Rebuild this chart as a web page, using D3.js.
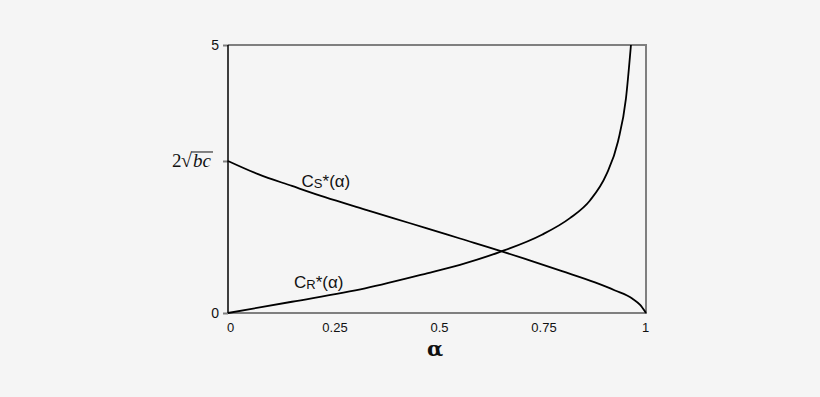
<!DOCTYPE html>
<html>
<head>
<meta charset="utf-8">
<script src="https://cdn.jsdelivr.net/npm/d3@7"></script>
<style>
  body { margin: 0; background: #f5f5f5; }
  svg { display: block; }
</style>
</head>
<body>
<div id="graf"></div>
<script>
// Curvas C_S*(alpha) y C_R*(alpha)

alphaTicks = [0, 0.25, 0.5, 0.75, 1]
xTickLabels = ['0', '0.25', '0.5', '0.75', '1']
yTicks = [0, 2.836, 5]

csAlpha = [0, 0.072, 0.153, 0.232, 0.328, 0.395, 0.476, 0.555, 0.651, 0.718, 0.799, 0.878, 0.926, 0.967, 0.986, 1.0]
csValue = [2.836, 2.59, 2.37, 2.16, 1.93, 1.77, 1.58, 1.39, 1.16, 0.99, 0.78, 0.57, 0.42, 0.27, 0.15, 0]

crAlpha = [0, 0.153, 0.328, 0.476, 0.555, 0.651, 0.751, 0.818, 0.866, 0.905, 0.933, 0.952, 0.964]
crValue = [0, 0.21, 0.46, 0.74, 0.90, 1.14, 1.46, 1.77, 2.10, 2.58, 3.20, 4.00, 5.0]

ancho_total = 820
alto_total  = 397
margins = { top: 45, left: 228, right: 174, bottom: 84 }
ancho = ancho_total - margins.left - margins.right
alto  = alto_total - margins.top - margins.bottom

svg = d3.select('#graf').append('svg')
        .attr('width', ancho_total)
        .attr('height', alto_total)

svg.append('rect')
  .attr('width', ancho_total)
  .attr('height', alto_total)
  .attr('fill', '#f5f5f5')

g = svg.append('g')
       .attr('transform', `translate(${ margins.left }, ${ margins.top })`)

// Escaladores
x = d3.scaleLinear().domain([0, 1]).range([0, ancho])
y = d3.scaleLinear().domain([0, 5]).range([alto, 0])

// marco gris (arriba, derecha, abajo)
g.append('path')
  .attr('d', `M0,0H${ ancho }V${ alto }H0`)
  .attr('fill', 'none')
  .attr('stroke', '#7f7f7f')
  .attr('stroke-width', 2)

// eje x
xAxis = g.append('g')
  .attr('transform', `translate(0, ${ alto })`)
  .call(d3.axisBottom(x).tickValues(alphaTicks).tickSize(0).tickPadding(10)
          .tickFormat((d, i) => xTickLabels[i]))
xAxis.select('.domain').remove()
xAxis.selectAll('text')
  .attr('font-family', 'Liberation Sans, Arial, sans-serif')
  .attr('font-size', '13px')
  .attr('fill', '#111')
  .attr('dx', (d, i) => i == 4 ? '-1' : '2')

// eje y
yAxis = g.append('g')
  .call(d3.axisLeft(y).tickValues(yTicks).tickSize(5).tickPadding(4)
          .tickFormat(d => d == 0 ? '0' : d == 5 ? '5' : ''))
yAxis.select('.domain').remove()
yAxis.selectAll('line').attr('stroke', '#7f7f7f').attr('stroke-width', 2)
yAxis.selectAll('text')
  .attr('font-family', 'Liberation Sans, Arial, sans-serif')
  .attr('font-size', '14px')
  .attr('fill', '#111')

g.append('line')
  .attr('x1', 0).attr('x2', 0)
  .attr('y1', 0).attr('y2', alto)
  .attr('stroke', '#000')
  .attr('stroke-width', 1.5)

// etiqueta 2 sqrt(bc)
lab = g.append('g')
  .attr('transform', `translate(-56, ${ y(yTicks[1]) + 6 })`)
  .attr('font-family', 'Liberation Serif, Times New Roman, serif')
  .attr('font-size', '19px')
  .attr('fill', '#111')
lab.append('text').attr('x', 0).text('2')
lab.append('text').attr('x', 9).attr('font-size', '20px').text('√')
lab.append('text').attr('x', 21).attr('font-style', 'italic').text('bc')
lab.append('line')
  .attr('x1', 19.5).attr('x2', 41)
  .attr('y1', -15).attr('y2', -15)
  .attr('stroke', '#111').attr('stroke-width', 1)

// curvas
line = d3.line()
  .x(d => x(d[0]))
  .y(d => y(d[1]))
  .curve(d3.curveMonotoneX)

g.append('path')
  .datum(d3.zip(csAlpha, csValue))
  .attr('d', line)
  .attr('fill', 'none')
  .attr('stroke', '#000')
  .attr('stroke-width', 1.8)

g.append('path')
  .datum(d3.zip(crAlpha, crValue))
  .attr('d', line)
  .attr('fill', 'none')
  .attr('stroke', '#000')
  .attr('stroke-width', 1.8)

// etiquetas de curvas
function etiqueta(ax, vy, sub) {
  t = g.append('text')
    .attr('x', x(ax))
    .attr('y', y(vy))
    .attr('font-family', 'Liberation Sans, Arial, sans-serif')
    .attr('font-size', '17px')
    .attr('fill', '#111')
  t.append('tspan').text('C')
  t.append('tspan').attr('font-size', '13px').attr('dy', '1').text(sub)
  t.append('tspan').attr('dy', '-1').text('*(α)')
}
etiqueta(0.176, 2.35, 'S')
etiqueta(0.158, 0.475, 'R')

// titulo eje x
g.append('text')
  .attr('x', x(0.5) - 2)
  .attr('y', alto + 43)
  .attr('text-anchor', 'middle')
  .attr('font-family', 'DejaVu Serif, Liberation Serif, serif')
  .attr('font-weight', 'bold')
  .attr('font-size', '21px')
  .attr('fill', '#111')
  .text('α')
</script>
</body>
</html>
